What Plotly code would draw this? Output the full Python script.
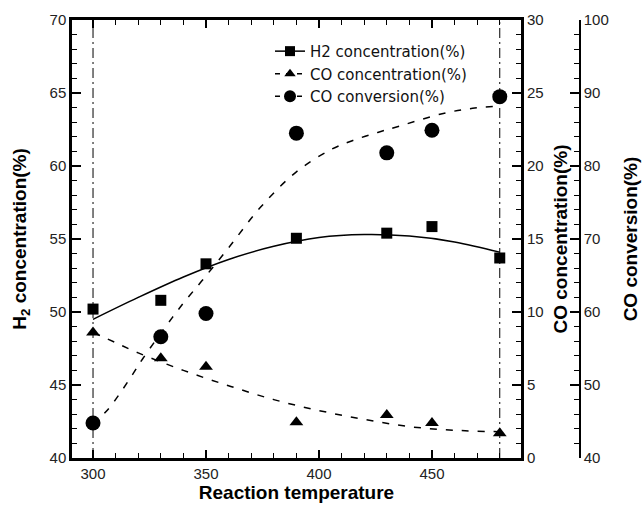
import plotly.graph_objects as go

# Measured data points
temps = [300, 330, 350, 390, 430, 450, 480]
h2_conc = [50.2, 50.8, 53.3, 55.05, 55.4, 55.85, 53.7]
co_conc = [8.6, 6.83, 6.25, 2.45, 2.95, 2.4, 1.7]
co_conv = [44.8, 56.6, 59.8, 84.5, 81.8, 84.9, 89.5]

# Fitted curves
h2_fit_t = [300, 320, 340, 360, 380, 400, 420, 440, 460, 480]
h2_fit = [49.5, 51.0, 52.4, 53.6, 54.5, 55.1, 55.3, 55.2, 54.8, 54.1]
co_fit_t = [300, 310, 320, 340, 360, 380, 400, 420, 440, 460, 480]
co_fit = [8.6, 7.9, 7.2, 6.0, 4.95, 4.0, 3.25, 2.65, 2.15, 1.9, 1.8]
conv_fit_t = [300, 307, 312, 317, 322, 335, 341, 348, 360, 374, 390, 405, 415, 426, 436, 455, 468, 480]
conv_fit = [44.5, 46.8, 48.9, 51.2, 53.6, 59.2, 61.6, 64.2, 68.8, 74.3, 79.2, 82.2, 83.5, 84.6, 85.5, 87.2, 87.9, 88.2]

ref_lines = [300, 480]

FONT = "Liberation Sans, Arial, sans-serif"
LEGFONT = "DejaVu Sans, Liberation Sans, sans-serif"
BLK = "#000000"
DASH = "7px,9px"

fig = go.Figure()

# fit curves
fig.add_trace(go.Scatter(x=h2_fit_t, y=h2_fit, mode="lines", line=dict(color=BLK, width=1.5, shape="spline"),
                         showlegend=False, yaxis="y"))
fig.add_trace(go.Scatter(x=co_fit_t, y=co_fit, mode="lines", line=dict(color=BLK, width=1.5, dash=DASH, shape="spline"),
                         showlegend=False, yaxis="y2"))
fig.add_trace(go.Scatter(x=conv_fit_t, y=conv_fit, mode="lines", line=dict(color=BLK, width=1.5, dash=DASH, shape="spline"),
                         showlegend=False, yaxis="y3"))

# data markers
fig.add_trace(go.Scatter(x=temps, y=h2_conc, mode="markers", marker=dict(symbol="square", size=11, color=BLK),
                         showlegend=False, yaxis="y"))
fig.add_trace(go.Scatter(x=temps, y=co_conc, mode="markers", marker=dict(symbol="triangle-up", size=12, color=BLK),
                         showlegend=False, yaxis="y2"))
fig.add_trace(go.Scatter(x=temps, y=co_conv, mode="markers", marker=dict(symbol="circle", size=15, color=BLK),
                         showlegend=False, yaxis="y3"))

# legend entries
fig.add_trace(go.Scatter(x=[None], y=[None], mode="lines+markers", name="H2 concentration(%)",
                         line=dict(color=BLK, width=1.5), marker=dict(symbol="square", size=10, color=BLK)))
fig.add_trace(go.Scatter(x=[None], y=[None], mode="lines+markers", name="CO concentration(%)",
                         line=dict(color=BLK, width=1.5, dash="5px,6px"), marker=dict(symbol="triangle-up", size=10, color=BLK)))
fig.add_trace(go.Scatter(x=[None], y=[None], mode="lines+markers", name="CO conversion(%)",
                         line=dict(color=BLK, width=1.5, dash="5px,6px"), marker=dict(symbol="circle", size=12, color=BLK)))

for xv in ref_lines:
    fig.add_shape(type="line", xref="x", yref="paper", x0=xv, x1=xv, y0=0, y1=1,
                  line=dict(color=BLK, width=1, dash="10px,4px,2px,4px"))

W, H = 644, 508
L, R, T, B = 72, 20, 20, 50
pw = W - L - R
dom_end = (521 - L) / pw
y3_pos = (580 - L) / pw

tickfont = dict(family=FONT, size=15, color="#222222")
titlefont = dict(family=FONT, size=19, color=BLK, weight="bold")

fig.update_layout(
    width=W, height=H,
    margin=dict(l=L, r=R, t=T, b=B, autoexpand=False),
    paper_bgcolor="white", plot_bgcolor="white",
    font=dict(family=FONT, color=BLK),
    showlegend=True,
    legend=dict(x=(270 - L) / pw, y=0.966, xanchor="left", yanchor="top",
                bgcolor="rgba(0,0,0,0)", font=dict(family=LEGFONT, size=15, color="#111"),
                tracegroupgap=0, itemwidth=30),
    xaxis=dict(domain=[0, dom_end], range=[290.7, 489.4], tickvals=[300, 350, 400, 450],
               ticks="inside", ticklen=8, tickwidth=1.5, tickcolor=BLK,
               showline=True, linewidth=2.5, linecolor=BLK, mirror="ticks",
               showgrid=False, zeroline=False, tickfont=tickfont,
               minor=dict(dtick=10, tick0=300, ticks="inside", ticklen=5, tickcolor=BLK, tickwidth=1.2),
               title=dict(text="Reaction temperature", font=titlefont, standoff=5)),
    yaxis=dict(range=[40, 70], dtick=5, ticks="inside", ticklen=9, tickwidth=1.5, tickcolor=BLK,
               showline=True, linewidth=2.5, linecolor=BLK, showgrid=False, zeroline=False,
               tickfont=tickfont,
               minor=dict(dtick=1, ticks="inside", ticklen=5, tickcolor=BLK, tickwidth=1.2),
               title=dict(text="H<sub>2</sub> concentration(%)", font=titlefont, standoff=18)),
    yaxis2=dict(range=[0, 30], dtick=5, overlaying="y", side="right", anchor="x",
                ticks="inside", ticklen=9, tickwidth=1.5, tickcolor=BLK,
                showline=True, linewidth=3, linecolor=BLK, showgrid=False, zeroline=False,
                tickfont=tickfont,
                minor=dict(dtick=1, ticks="inside", ticklen=5, tickcolor=BLK, tickwidth=1.2),
                title=dict(text="CO concentration(%)", font=titlefont, standoff=12)),
    yaxis3=dict(range=[40, 100], dtick=10, overlaying="y", side="right", anchor="free", position=y3_pos,
                ticks="inside", ticklen=9, tickwidth=1.5, tickcolor=BLK,
                showline=True, linewidth=1.5, linecolor=BLK, showgrid=False, zeroline=False,
                tickfont=tickfont,
                minor=dict(dtick=2, ticks="inside", ticklen=5, tickcolor=BLK, tickwidth=1.2),
                title=dict(text="CO conversion(%)", font=titlefont, standoff=15)),
)

fig.write_html("out.html")
